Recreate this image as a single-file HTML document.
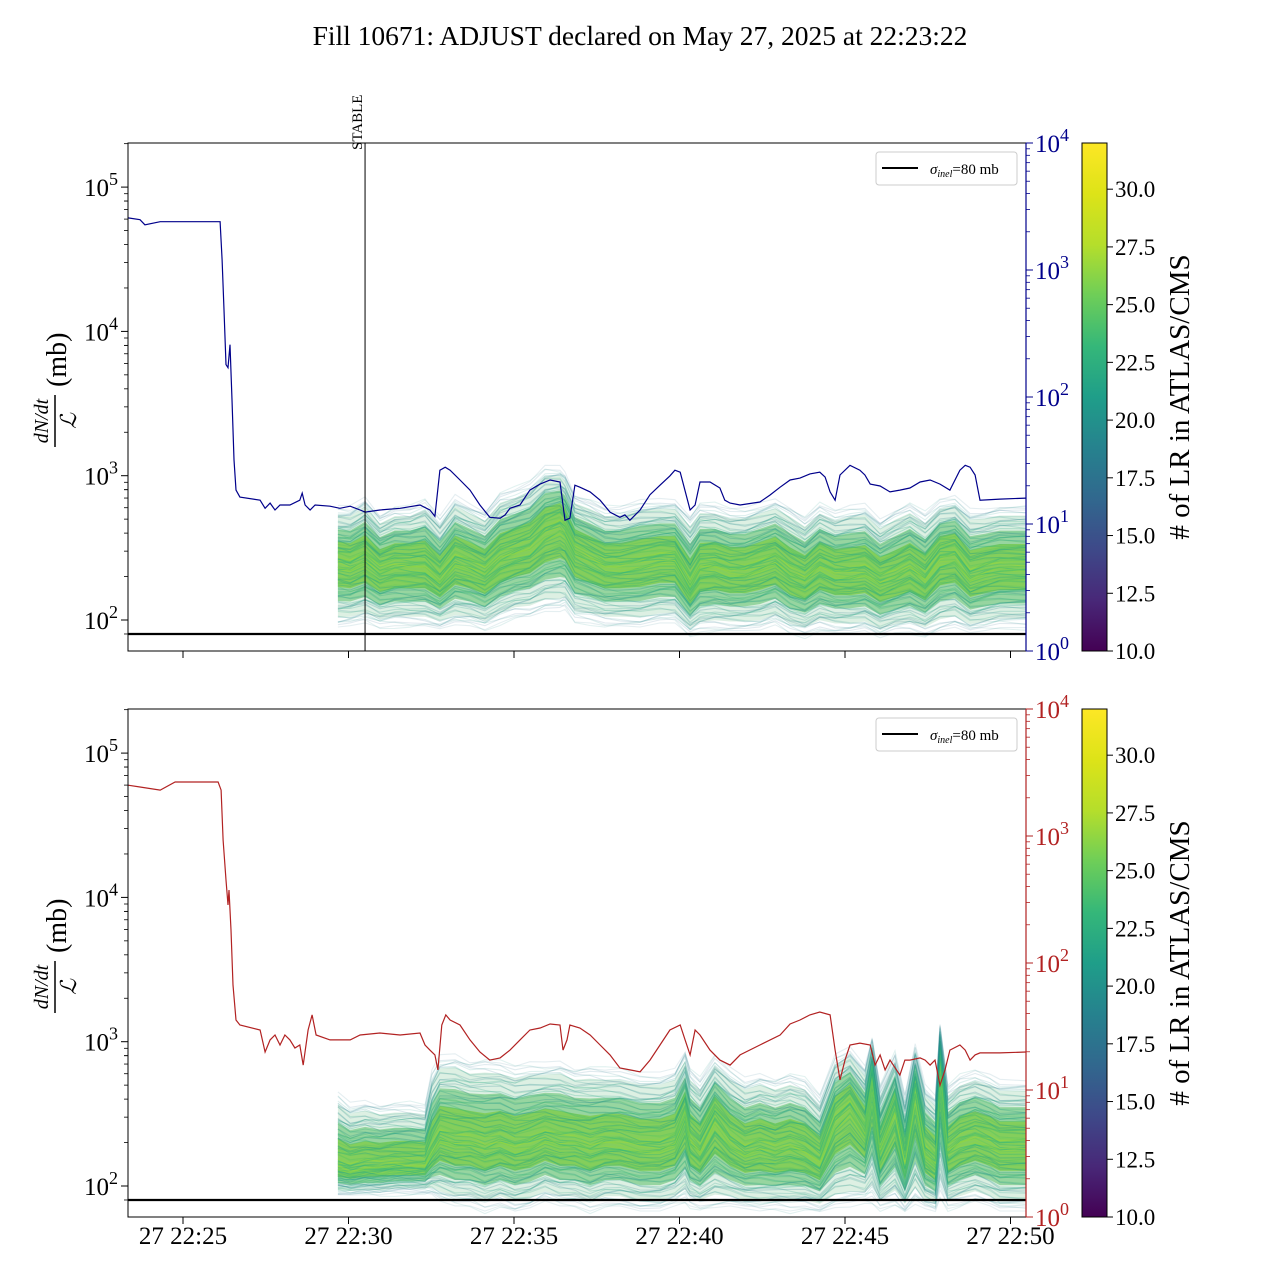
<!DOCTYPE html>
<html><head><meta charset="utf-8">
<style>
html,body{margin:0;padding:0;background:#fff;}
svg{display:block;font-family:"Liberation Serif",serif;}
</style></head>
<body>
<svg id="chart" width="1280" height="1280" viewBox="0 0 1280 1280" xmlns="http://www.w3.org/2000/svg">
<defs>
<clipPath id="clipTop"><rect x="128" y="143" width="898" height="508"/></clipPath>
<clipPath id="clipBot"><rect x="128" y="709" width="898" height="508"/></clipPath>
<linearGradient id="viridis" x1="0" y1="1" x2="0" y2="0">
<stop offset="0" stop-color="#440154"/><stop offset="0.1" stop-color="#482878"/><stop offset="0.2" stop-color="#3e4989"/><stop offset="0.3" stop-color="#31688e"/><stop offset="0.4" stop-color="#26828e"/><stop offset="0.5" stop-color="#1f9e89"/><stop offset="0.6" stop-color="#35b779"/><stop offset="0.7" stop-color="#6ece58"/><stop offset="0.8" stop-color="#b5de2b"/><stop offset="0.9" stop-color="#dde318"/><stop offset="1" stop-color="#fde725"/>
</linearGradient>
</defs>
<rect x="0" y="0" width="1280" height="1280" fill="#fff"/>
<text x="640" y="45" text-anchor="middle" font-size="27.5">Fill 10671: ADJUST declared on May 27, 2025 at 22:23:22</text>
<g id="top"></g>
<g id="bot"></g>
</svg>
<script>
// ---------- data ----------
// times in minutes since 22:25
const blueT = [-1.66,-1.30,-1.15,-0.69,0.51,1.12,1.18,1.24,1.30,1.36,1.42,1.48,1.54,1.60,1.72,2.33,2.48,2.63,2.78,2.93,3.23,3.53,3.60,3.69,3.84,3.99,4.44,4.74,5.05,5.35,5.50,5.95,6.56,7.16,7.46,7.61,7.76,7.92,8.07,8.37,8.67,8.97,9.27,9.58,9.73,9.88,10.18,10.48,10.79,11.09,11.39,11.54,11.69,11.84,11.99,12.30,12.60,12.90,13.20,13.35,13.50,13.81,14.11,14.41,14.71,14.86,15.02,15.32,15.47,15.62,15.92,16.22,16.37,16.53,16.83,17.43,17.73,18.04,18.34,18.64,18.94,19.24,19.40,19.55,19.70,19.85,20.15,20.45,20.60,20.76,21.06,21.36,21.66,21.96,22.27,22.57,22.87,23.17,23.47,23.63,23.78,23.93,24.08,24.68,25.47];
const blueV = [2570,2490,2270,2400,2400,2400,1200,485,180,170,258,95,32,18.5,16.3,15.4,13.3,14.6,12.9,14.1,14.1,15.4,17.5,14.1,12.9,14.1,13.8,13.3,13.8,12.9,12.4,12.9,13.3,14.1,12.9,11.5,26.5,28,26.5,22.2,18.5,14.1,11.3,11.1,11.8,13.3,14.1,18.5,20.6,22.2,21.4,10.7,11.1,20.2,19.5,17.9,15.4,12.4,11.3,11.8,10.7,12.9,17.0,20.2,23.9,26.5,25.6,12.9,14.1,21.4,21.4,19.2,15.4,14.6,14.1,14.9,16.9,19.5,22.2,23.0,24.8,25.6,23.4,17.9,15.4,24.3,29,26.5,24.3,20.6,19.9,17.9,18.5,19.2,21.4,22.2,20.6,18.5,26.5,29,28,24.3,15.4,15.7,16.0];
const redT = [-1.66,-1.30,-0.69,-0.24,0.51,1.06,1.15,1.21,1.30,1.36,1.39,1.45,1.51,1.60,1.72,2.33,2.48,2.63,2.78,2.93,3.08,3.23,3.38,3.53,3.63,3.78,3.90,4.02,4.44,4.74,5.05,5.35,5.95,6.56,7.16,7.31,7.46,7.61,7.70,7.82,7.94,8.07,8.37,8.67,8.97,9.27,9.58,9.88,10.18,10.48,10.79,11.09,11.39,11.48,11.60,11.69,11.99,12.30,12.60,12.90,13.20,13.50,13.81,14.11,14.41,14.71,15.02,15.17,15.32,15.47,15.62,15.92,16.22,16.53,16.83,17.43,18.04,18.34,18.64,18.94,19.24,19.55,19.70,19.85,20.00,20.15,20.45,20.76,20.91,21.06,21.21,21.36,21.66,21.81,21.96,22.27,22.42,22.57,22.72,22.87,23.02,23.17,23.47,23.63,23.78,23.93,24.08,24.68,25.47];
const redV = [2510,2430,2300,2660,2660,2660,2300,930,450,286,376,182,67,35.6,32.5,29.7,19.9,24.8,27.1,22.6,27.1,24.8,21.4,22.6,15.7,29.7,39,27.1,24.8,24.8,24.8,27.1,28.1,27.1,28.1,22.6,20.6,18.9,14.4,32.5,39,35.6,32.5,24.8,19.9,17.2,17.9,20.6,24.8,29.7,30.8,33.1,32.5,20.6,24.8,32.5,30.8,27.1,22.6,18.9,14.9,14.4,13.9,17.2,22.6,29.7,32.5,24.8,18.9,29.7,27.1,20.6,17.2,15.7,18.9,22.6,27.1,33.1,35.6,39,41.1,39,20.6,12,17.2,22.6,23.4,22.6,15.7,18.9,14.4,17.2,13.1,17.2,17.2,17.9,17.2,15.7,17.2,10.9,14.4,20.6,22.6,20.6,17.2,18.9,19.6,19.6,19.9];

const topBandT = [4.68,5.05,5.50,5.95,6.40,6.86,7.31,7.76,8.22,8.67,9.12,9.58,10.03,10.48,10.94,11.39,11.54,11.84,12.30,12.75,13.20,13.81,14.41,14.86,15.32,15.62,16.07,16.53,16.98,17.43,17.89,18.34,18.79,19.24,19.70,20.15,20.60,21.06,21.51,21.96,22.42,22.87,23.32,23.78,24.23,24.68,25.47];
const topBandMed = [252,240,269,222,240,240,240,195,261,240,215,269,296,321,407,455,420,306,269,240,240,252,269,269,175,233,240,222,222,240,261,215,195,240,215,215,222,189,205,233,195,269,282,205,222,233,233];
const topSpreadUp = [0.38,0.4,0.42,0.38,0.4,0.4,0.45,0.42,0.44,0.42,0.42,0.45,0.44,0.45,0.45,0.4,0.4,0.38,0.4,0.4,0.4,0.42,0.4,0.4,0.48,0.44,0.42,0.42,0.42,0.42,0.42,0.45,0.42,0.42,0.42,0.45,0.45,0.42,0.45,0.44,0.45,0.4,0.4,0.45,0.42,0.42,0.42];
const topSpreadDown = [0.45,0.42,0.45,0.4,0.42,0.42,0.42,0.35,0.45,0.42,0.4,0.45,0.45,0.48,0.55,0.6,0.55,0.5,0.45,0.42,0.42,0.45,0.45,0.45,0.35,0.45,0.45,0.42,0.42,0.45,0.45,0.42,0.4,0.45,0.42,0.42,0.42,0.4,0.4,0.45,0.4,0.5,0.5,0.4,0.42,0.42,0.42];

const botBandT = [4.68,5.05,5.50,5.95,6.40,6.86,7.31,7.52,7.76,8.22,8.67,9.12,9.58,10.03,10.48,10.94,11.39,11.84,12.30,12.75,13.20,13.81,14.41,14.86,15.17,15.32,15.62,16.07,16.53,16.98,17.43,17.89,18.34,18.79,19.24,19.70,20.15,20.60,20.82,21.06,21.51,21.81,22.12,22.42,22.73,22.87,23.11,23.47,23.93,24.38,24.68,25.47];
const botBandMed = [138,131,138,138,142,142,142,175,222,205,205,189,205,189,199,222,205,205,189,205,205,189,189,205,306,205,175,282,205,175,189,175,189,175,149,282,358,240,534,175,331,149,420,175,149,735,175,205,222,205,189,189];
const botSpreadUp = [0.5,0.45,0.45,0.42,0.42,0.42,0.4,0.55,0.55,0.6,0.55,0.6,0.55,0.55,0.55,0.5,0.55,0.5,0.55,0.5,0.5,0.5,0.5,0.5,0.45,0.5,0.5,0.45,0.5,0.5,0.5,0.5,0.5,0.5,0.45,0.45,0.4,0.45,0.3,0.45,0.4,0.45,0.35,0.45,0.45,0.25,0.45,0.45,0.45,0.45,0.45,0.45];
const botSpreadDown = [0.2,0.18,0.2,0.2,0.2,0.2,0.2,0.3,0.45,0.45,0.45,0.45,0.45,0.45,0.45,0.45,0.45,0.45,0.45,0.45,0.45,0.45,0.45,0.45,0.6,0.45,0.4,0.6,0.45,0.4,0.45,0.4,0.45,0.4,0.35,0.6,0.7,0.5,0.85,0.4,0.65,0.35,0.75,0.4,0.35,0.95,0.4,0.45,0.45,0.45,0.45,0.45];

const leftTicks = [2,3,4,5];
const rightTicks = [0,1,2,3,4];
const xTickMin = [0,5,10,15,20,25];
const xTickLabels = ["27 22:25","27 22:30","27 22:35","27 22:40","27 22:45","27 22:50"];
const cbTicks = [10.0,12.5,15.0,17.5,20.0,22.5,25.0,27.5,30.0];
const sigmaInel = 80;
const stableMin = 5.5;

// ---------- axes ----------
const NS = "http://www.w3.org/2000/svg";
const X = t => 183 + t * 33.1;
function yL(v, off){ return 620 + off - 144.3 * (Math.log10(v) - 2); }
function yR(v, off){ return 651 + off - 127 * Math.log10(v); }
function mk(tag, attrs, parent){
  const e = document.createElementNS(NS, tag);
  for (const k in attrs) e.setAttribute(k, attrs[k]);
  parent.appendChild(e);
  return e;
}
const vir = ["#440154","#482878","#3e4989","#31688e","#26828e","#1f9e89","#35b779","#6ece58","#b5de2b","#fde725"];
function viridis(f){
  f = Math.max(0, Math.min(1, f));
  const p = f * (vir.length - 1), i = Math.min(vir.length - 2, Math.floor(p)), r = p - i;
  const a = vir[i], b = vir[i+1];
  const c = k => Math.round(parseInt(a.substr(k,2),16)*(1-r) + parseInt(b.substr(k,2),16)*r);
  return `rgb(${c(1)},${c(3)},${c(5)})`;
}

function drawPanel(g, off, lineT, lineV, lineColor, bandT, bandMed, sUp, sDown, clipId, showXLabels, isTop){
  const top = 143 + off, bot = 651 + off;
  const band = mk("g", {"clip-path": `url(#${clipId})`}, g);
  
  
  // core fill
  const bandY = (i, s) => {
    const lg = Math.log10(bandMed[i]) + (s >= 0 ? s * sUp[i] : s * sDown[i]);
    return yL(Math.pow(10, lg), off);
  };
  const layers = [[0.85, "#9fd3b0", 0.35], [0.6, "#5cc06a", 0.55], [0.38, "#7dcb45", 0.75]];
  for (const [w, col, op] of layers){
    const up = bandT.map((t, i) => X(t).toFixed(1) + "," + bandY(i, w).toFixed(1));
    const dn = bandT.map((t, i) => X(t).toFixed(1) + "," + bandY(i, -w).toFixed(1)).reverse();
    const pg = mk("polygon", {points: up.concat(dn).join(" "), fill: col, "fill-opacity": op}, band);
    
    
  }
  const N = 90;
  for (let k = 0; k < N; k++){
    const u = -1 + 2 * k / (N - 1);
    const s = Math.sign(u) * Math.pow(Math.abs(u), 1.15);
    const wig = 0.03 * Math.sin(k * 1.7);
    let pts = [];
    for (let i = 0; i < bandT.length; i++){
      const lg = Math.log10(bandMed[i]) + (s >= 0 ? s * sUp[i] : s * sDown[i]) + wig * Math.sin(i * 0.9 + k);
      pts.push(X(bandT[i]).toFixed(1) + "," + yL(Math.pow(10, lg), off).toFixed(1));
    }
    const au = Math.abs(u);
    const col = viridis(0.78 - 0.35 * au + 0.1 * Math.sin(k * 2.3));
    const pl = mk("polyline", {points: pts.join(" "), fill: "none", stroke: col, "stroke-width": 1.1, "stroke-opacity": (0.5 - 0.38 * au).toFixed(2)}, band);
    
    
  }
  // rate line on right axis
  const lp = lineT.map((t, i) => X(t).toFixed(1) + "," + yR(lineV[i], off).toFixed(1)).join(" ");
  const rl = mk("polyline", {points: lp, fill: "none", stroke: lineColor, "stroke-width": 1.2, "clip-path": `url(#${clipId})`}, g);
  
  
  // sigma line
  const sl = mk("line", {x1: 128, x2: 1026, y1: yL(sigmaInel, off), y2: yL(sigmaInel, off), stroke: "#000", "stroke-width": 2.2}, g);
  
  
  if (isTop){
    const st = mk("line", {x1: X(stableMin), x2: X(stableMin), y1: top, y2: bot, stroke: "#000", "stroke-width": 1}, g);
    
    
    const stt = mk("text", {x: 0, y: 0, "font-size": 15, transform: `translate(${X(stableMin)-3},150) rotate(-90)`}, g);
    stt.textContent = "STABLE";
    
    
  }
  // frame
  const fr = mk("rect", {x: 128, y: top, width: 898, height: 508, fill: "none", stroke: "#000", "stroke-width": 1}, g);
  
  
  mk("line", {x1: 1026, x2: 1026, y1: top, y2: bot, stroke: lineColor, "stroke-width": 1.2}, g);
  // left ticks
  for (const e of leftTicks){
    const y = yL(Math.pow(10, e), off);
    mk("line", {x1: 121, x2: 128, y1: y, y2: y, stroke: "#000"}, g);
    for (let m = 2; m < 10; m++){
      const ym = yL(m * Math.pow(10, e), off);
      if (ym > top && ym < bot) mk("line", {x1: 124, x2: 128, y1: ym, y2: ym, stroke: "#000", "stroke-width": 0.8}, g);
    }
    const ym1 = yL(Math.pow(10, e - 1) * 8, off);
    if (ym1 < bot) mk("line", {x1: 124, x2: 128, y1: ym1, y2: ym1, stroke: "#000", "stroke-width": 0.8}, g);
    const tx = mk("text", {x: 84, y: y + 9, "font-size": 25}, g);
    tx.innerHTML = `10<tspan dy="-11" font-size="18">${e}</tspan>`;
    
    
  }
  // right ticks
  for (const e of rightTicks){
    const y = yR(Math.pow(10, e), off);
    mk("line", {x1: 1026, x2: 1033, y1: y, y2: y, stroke: lineColor}, g);
    if (e < 4) for (let m = 2; m < 10; m++){
      const ym = yR(m * Math.pow(10, e), off);
      mk("line", {x1: 1026, x2: 1030, y1: ym, y2: ym, stroke: lineColor, "stroke-width": 0.8}, g);
    }
    const tx = mk("text", {x: 1035, y: y + 9, "font-size": 25, fill: lineColor}, g);
    tx.innerHTML = `10<tspan dy="-11" font-size="18">${e}</tspan>`;
    
    
  }
  // x ticks
  xTickMin.forEach((t, i) => {
    mk("line", {x1: X(t), x2: X(t), y1: bot, y2: bot + 7, stroke: "#000"}, g);
    if (showXLabels){
      const tx = mk("text", {x: X(t), y: bot + 27, "font-size": 25, "text-anchor": "middle"}, g);
      tx.textContent = xTickLabels[i];
      
      
    }
  });
  // y label
  const yl = mk("g", {transform: `translate(58,${off+397}) rotate(-90)`}, g);
  
  
  const n1 = mk("text", {x: -24, y: -10, "font-size": 20, "font-style": "italic", "text-anchor": "middle"}, yl);
  n1.textContent = "dN/dt";
  mk("line", {x1: -50, x2: 2, y1: -3, y2: -3, stroke: "#000", "stroke-width": 1.5}, yl);
  const n2 = mk("text", {x: -24, y: 18, "font-size": 22, "font-style": "italic", "text-anchor": "middle"}, yl);
  n2.textContent = "ℒ";
  const n3 = mk("text", {x: 10, y: 8, "font-size": 28}, yl);
  n3.textContent = "(mb)";
  // legend
  const lg = mk("g", {}, g);
  
  
  mk("rect", {x: 876, y: top + 9, width: 141, height: 33, rx: 3, fill: "#fff", stroke: "#ccc"}, lg);
  mk("line", {x1: 882, x2: 918, y1: top + 25, y2: top + 25, stroke: "#000", "stroke-width": 2}, lg);
  const lt = mk("text", {x: 930, y: top + 31, "font-size": 15}, lg);
  lt.innerHTML = `<tspan font-style="italic">σ</tspan><tspan font-size="10" font-style="italic" dy="3">inel</tspan><tspan dy="-3">=80 mb</tspan>`;
  
  
  // colorbar
  const cb = mk("g", {}, g);
  
  
  mk("rect", {x: 1082, y: top, width: 25, height: 508, fill: "url(#viridis)", stroke: "#000", "stroke-width": 1}, cb);
  const cbY = v => bot - (v - 10) / 22 * 508;
  cbTicks.forEach(v => {
    mk("line", {x1: 1107, x2: 1113, y1: cbY(v), y2: cbY(v), stroke: "#000"}, cb);
    const tx = mk("text", {x: 1115, y: cbY(v) + 8, "font-size": 23}, cb);
    tx.textContent = v.toFixed(1);
    
    
  });
  const ct = mk("text", {x: 0, y: 0, "font-size": 29, "text-anchor": "middle", transform: `translate(1189,${off+397}) rotate(-90)`}, cb);
  ct.textContent = "# of LR in ATLAS/CMS";
  
  
}

drawPanel(document.getElementById("top"), 0, blueT, blueV, "#00008b", topBandT, topBandMed, topSpreadUp, topSpreadDown, "clipTop", false, true);
drawPanel(document.getElementById("bot"), 566, redT, redV, "#b22222", botBandT, botBandMed, botSpreadUp, botSpreadDown, "clipBot", true, false);
</script>
</body></html>
